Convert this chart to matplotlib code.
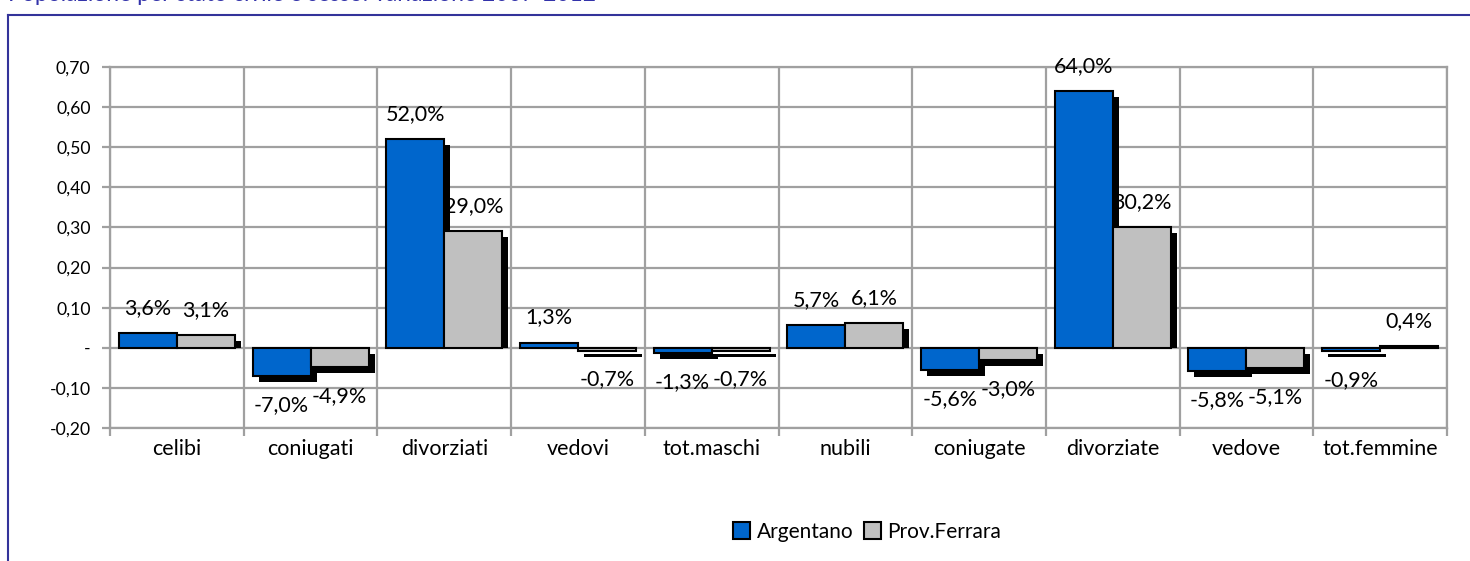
import matplotlib
matplotlib.use("Agg")
import matplotlib.pyplot as plt
from matplotlib.lines import Line2D
from matplotlib.patches import Patch
import numpy as np

plt.rcParams['font.family'] = ['Lato', 'DejaVu Sans']

categories = ["celibi", "coniugati", "divorziati", "vedovi", "tot.maschi",
              "nubili", "coniugate", "divorziate", "vedove", "tot.femmine"]
argentano = [0.036, -0.070, 0.520, 0.013, -0.013, 0.057, -0.056, 0.640, -0.058, -0.009]
ferrara = [0.031, -0.049, 0.290, -0.007, -0.007, 0.061, -0.030, 0.302, -0.051, 0.004]
series_names = ["Argentano", "Prov.Ferrara"]
yticks = [-0.20, -0.10, 0.0, 0.10, 0.20, 0.30, 0.40, 0.50, 0.60, 0.70]
title = "Popolazione per stato civile e sesso: variazione 2007-2012"

W, H = 1470, 561
fig = plt.figure(figsize=(W / 100, H / 100), dpi=100)
ax_l, ax_r, ax_t, ax_b = 110, 1447, 67, 428
ax = fig.add_axes([ax_l / W, 1 - ax_b / H, (ax_r - ax_l) / W, (ax_b - ax_t) / H])

ymin, ymax = -0.20, 0.70
ax.set_xlim(-0.5, len(categories) - 0.5)
ax.set_ylim(ymin, ymax)

# pixel -> data conversions for shadow offsets
px_per_x = (ax_r - ax_l) / len(categories)
px_per_y = (ax_b - ax_t) / (ymax - ymin)
sdx = 6 / px_per_x
sdy = 6 / px_per_y

x = np.arange(len(categories))
bw = 0.434
colors = ["#0066CC", "#C0C0C0"]
grid_c = "#A0A0A0"

# grid
for yv in yticks:
    ax.axhline(yv, color=grid_c, lw=1.6, zorder=1)
for xb in np.arange(-0.5, len(categories), 1.0):
    ax.axvline(xb, color=grid_c, lw=1.6, zorder=1)

for k, (vals, col) in enumerate(zip([argentano, ferrara], colors)):
    xs = x + (k - 0.5) * bw
    # shadows
    for xi, v in zip(xs, vals):
        if v >= 0:
            b, h = 0, max(v - sdy, 0)
        else:
            b, h = -sdy, v
        ax.bar(xi + sdx, h, bottom=b, width=bw, color="black", lw=0, zorder=2 + k * 2)
    ax.bar(xs, vals, width=bw, color=col, edgecolor="black", lw=1.5, zorder=3 + k * 2)
    for xi, v in zip(xs, vals):
        lab = f"{v * 100:.1f}%".replace(".", ",")
        if v >= 0:
            ax.annotate(lab, (xi, v), xytext=(0, 25), textcoords="offset pixels",
                        ha="center", va="center", fontsize=15.5, zorder=10)
        else:
            ax.annotate(lab, (xi, v), xytext=(0, -29), textcoords="offset pixels",
                        ha="center", va="center", fontsize=15.5, zorder=10)

def yfmt(v):
    if abs(v) < 1e-9:
        return "-"
    return f"{v:.2f}".replace(".", ",")

ax.set_yticks(yticks)
ax.set_yticklabels([yfmt(v) for v in yticks], fontsize=12.7)
ax.set_xticks(x)
ax.set_xticklabels(categories, fontsize=15.5)
ax.tick_params(axis="y", length=6, color=grid_c, width=1.6, pad=8)
ax.tick_params(axis="x", length=0, pad=8)
ax.set_xticks(np.arange(-0.5, len(categories), 1.0), minor=True)
ax.tick_params(axis="x", which="minor", length=6, color=grid_c, width=1.6)
for s in ax.spines.values():
    s.set_color(grid_c)
    s.set_linewidth(1.6)

# frame and clipped title
fc = "#33339A"
fig.add_artist(Line2D([8 / W, 1.0], [1 - 15 / H, 1 - 15 / H], color=fc, lw=1.5, transform=fig.transFigure))
fig.add_artist(Line2D([8 / W, 8 / W], [1 - 15 / H, 0.0], color=fc, lw=1.5, transform=fig.transFigure))
fig.text(8 / W, 1 - 1 / H, title, color="#3333AA", fontsize=16.5, va="baseline", ha="left")

handles = [Patch(facecolor=c, edgecolor="black", lw=1.5) for c in colors]
fig.legend(handles, series_names, loc="center", bbox_to_anchor=(867 / W, 1 - 532 / H),
           ncol=2, frameon=False, fontsize=15, handlelength=0.85, handleheight=0.85,
           handletextpad=0.3, columnspacing=0.5)

fig.savefig("out.png", dpi=100)
